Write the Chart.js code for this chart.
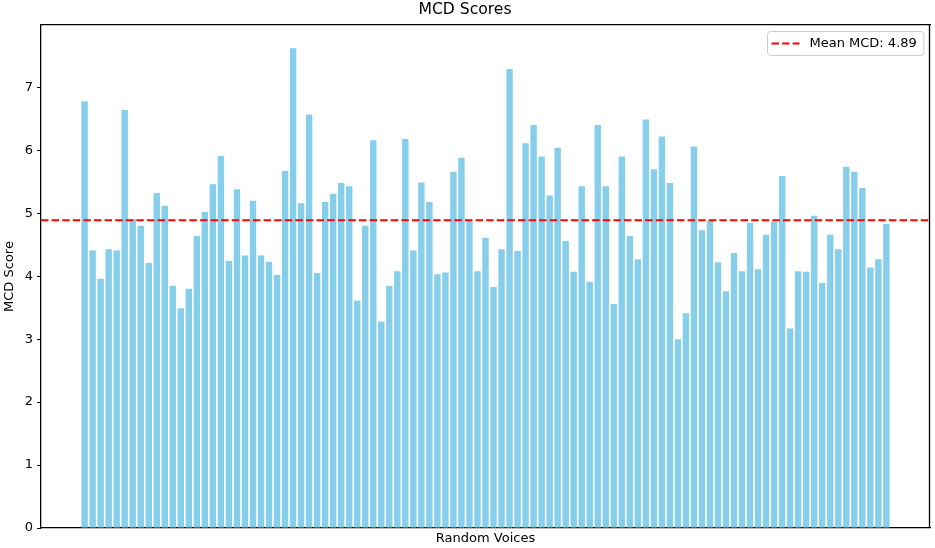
<!DOCTYPE html>
<html>
<head>
<meta charset="utf-8">
<title>MCD Scores</title>
<script src="https://cdn.jsdelivr.net/npm/chart.js@4.4.1/dist/chart.umd.min.js"></script>
<style>
  html, body { margin: 0; padding: 0; background: #fff; overflow: hidden; }
  #wrap { width: 935px; height: 548px; }
  canvas { display: block; }
</style>
</head>
<body>
<div id="wrap"><canvas id="mcdChart" width="935" height="548"></canvas></div>
<script>
// MCD score per random voice (left to right)
const mcdScores = [
  6.78, 4.41, 3.96, 4.43, 4.41, 6.64, 4.91, 4.80, 4.21, 5.32,
  5.12, 3.85, 3.49, 3.80, 4.64, 5.02, 5.46, 5.91, 4.24, 5.38,
  4.33, 5.20, 4.33, 4.23, 4.02, 5.67, 7.62, 5.16, 6.57, 4.05,
  5.18, 5.31, 5.48, 5.43, 3.61, 4.80, 6.16, 3.28, 3.85, 4.08,
  6.18, 4.41, 5.49, 5.18, 4.03, 4.06, 5.66, 5.88, 4.88, 4.08,
  4.61, 3.83, 4.43, 7.29, 4.40, 6.11, 6.40, 5.90, 5.28, 6.04,
  4.56, 4.07, 5.43, 3.91, 6.40, 5.43, 3.56, 5.90, 4.64, 4.27,
  6.49, 5.70, 6.22, 5.48, 3.00, 3.41, 6.06, 4.73, 4.88, 4.22,
  3.76, 4.37, 4.08, 4.85, 4.11, 4.66, 4.87, 5.59, 3.17, 4.08,
  4.07, 4.96, 3.89, 4.66, 4.43, 5.74, 5.66, 5.40, 4.14, 4.27,
  4.83
];
const voiceIdx = mcdScores.map((_, i) => i); // voices have no tick labels
const meanMcd = 4.89;
const meanLabel = "Mean MCD: " + meanMcd.toFixed(2);
const yTicks = [0, 1, 2, 3, 4, 5, 6, 7];

Chart.defaults.font.family = "'DejaVu Sans', sans-serif";
Chart.defaults.font.size = 13;
Chart.defaults.color = "#000";

// same margins matplotlib puts round a bar plot
const pad = 0.05 * (voiceIdx.length - 1 + 0.8);
const xMin = -0.4 - pad;
const xMax = voiceIdx.length - 1 + 0.4 + pad;

const spine = { display: true, color: "#000", width: 1.3 };

// right spine, drawn right after the datasets
const rightSpine = {
  id: "rightSpine",
  afterDatasetsDraw(chart) {
    const { ctx, chartArea: a } = chart;
    ctx.save();
    ctx.setLineDash([]);
    ctx.strokeStyle = "#000";
    ctx.lineWidth = 1.3;
    ctx.beginPath();
    ctx.moveTo(Math.round(a.right) - 0.5, a.top);
    ctx.lineTo(Math.round(a.right) - 0.5, a.bottom);
    ctx.stroke();
    ctx.restore();
  }
};

// legend box inside top right
const meanLegend = {
  id: "meanLegend",
  afterDraw(chart) {
    const { ctx, chartArea: a } = chart;
    ctx.save();
    ctx.font = "13px 'DejaVu Sans', sans-serif";
    const tw = ctx.measureText(meanLabel).width;
    const bw = 4 + 28 + 10 + tw + 7;
    const bh = 24;
    const bx = Math.round(a.right - 7 - bw) + 0.5;
    const by = Math.round(a.top + 6) + 0.5;
    ctx.beginPath();
    ctx.moveTo(bx + 3, by);
    ctx.arcTo(bx + bw, by, bx + bw, by + bh, 3);
    ctx.arcTo(bx + bw, by + bh, bx, by + bh, 3);
    ctx.arcTo(bx, by + bh, bx, by, 3);
    ctx.arcTo(bx, by, bx + bw, by, 3);
    ctx.closePath();
    ctx.fillStyle = "rgba(255,255,255,0.8)";
    ctx.fill();
    ctx.strokeStyle = "#cccccc";
    ctx.lineWidth = 1;
    ctx.stroke();

    const ly = by + bh / 2;
    ctx.beginPath();
    ctx.setLineDash([7.4, 3.2]);
    ctx.strokeStyle = "red";
    ctx.lineWidth = 2;
    ctx.moveTo(bx + 4, ly);
    ctx.lineTo(bx + 32, ly);
    ctx.stroke();
    ctx.setLineDash([]);

    ctx.fillStyle = "#000";
    ctx.textBaseline = "middle";
    ctx.textAlign = "left";
    ctx.fillText(meanLabel, bx + 42, ly);
    ctx.restore();
  }
};

new Chart(document.getElementById("mcdChart"), {
  data: {
    datasets: [
      {
        type: "line",
        label: meanLabel,
        data: [{ x: xMin, y: meanMcd }, { x: xMax, y: meanMcd }],
        borderColor: "red",
        borderWidth: 2,
        borderDash: [7.4, 3.2],
        pointRadius: 0,
        order: 0
      },
      {
        type: "bar",
        label: "MCD Score",
        data: voiceIdx.map(i => ({ x: i, y: mcdScores[i] })),
        backgroundColor: "skyblue",
        borderWidth: 0,
        barPercentage: 0.8,
        categoryPercentage: 1.0,
        order: 1
      }
    ]
  },
  options: {
    responsive: false,
    animation: false,
    devicePixelRatio: 1,
    layout: { padding: { left: 0, right: 5, top: 0, bottom: 0 } },
    plugins: {
      legend: { display: false },
      tooltip: { enabled: false },
      title: {
        display: true,
        text: "MCD Scores",
        color: "#000",
        font: { size: 15.6, weight: "normal" },
        padding: { top: 1, bottom: 5.3 }
      }
    },
    scales: {
      x: {
        type: "linear",
        min: xMin,
        max: xMax,
        offset: false,
        grid: { display: false },
        border: spine,
        ticks: { display: false },
        title: { display: true, text: "Random Voices", padding: { top: 0, bottom: 1.2 } },
        afterFit(scale) { scale.height = 20; }
      },
      // top spine only
      xTop: {
        type: "linear",
        position: "top",
        min: xMin,
        max: xMax,
        offset: false,
        grid: { display: false },
        border: spine,
        ticks: { display: false },
        afterFit(scale) { scale.height = 0; }
      },
      y: {
        min: 0,
        max: 7.99,
        grid: { drawOnChartArea: false, drawTicks: true, tickLength: 4, color: "#000" },
        border: spine,
        ticks: { stepSize: 1, padding: 4 },
        afterBuildTicks(scale) {
          scale.ticks = yTicks.map(v => ({ value: v }));
        },
        title: { display: true, text: "MCD Score", padding: { top: 2, bottom: 0 } },
        afterFit(scale) { scale.width = 41; }
      }
    }
  },
  plugins: [rightSpine, meanLegend]
});
</script>
</body>
</html>
